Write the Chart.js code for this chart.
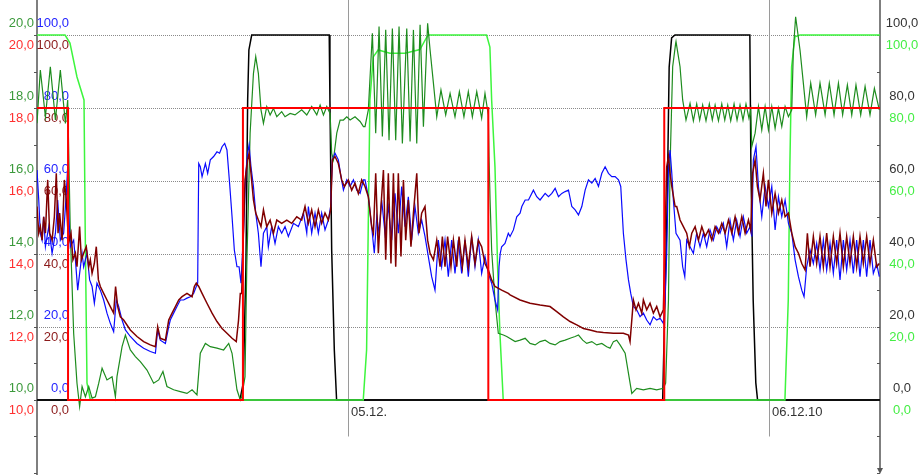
<!DOCTYPE html>
<html>
<head>
<meta charset="utf-8">
<script src="https://cdn.jsdelivr.net/npm/chart.js@4.4.1/dist/chart.umd.min.js"></script>
<style>
  html, body { margin: 0; padding: 0; background: #fff; }
  canvas { display: block; }
</style>
</head>
<body>
<canvas id="myChart" width="924" height="475"></canvas>
<script>
// time = hours since 04.12. 00:00
const dayTicks = [24, 48]
const dayLabels = ['05.12.', '06.12.10']
const tempTicks = [10, 12, 14, 16, 18, 20]
const pctTicks = [0, 20, 40, 60, 80, 100]

// set point (temp axis)
const setpoint = [[6.27,18],[8.04,18],[8.04,10],[18.01,10],[18.01,18],[32.00,18],[32.00,10],[42.03,10],[42.03,18],[54.33,18]]

// burner / valve (percent, right axis)
const burner = [[6.27,0],[17.84,0],[18.03,4.7],[18.18,36.4],[18.28,82.2],[18.35,95.9],[18.51,100],[22.93,100],[22.97,82.2],[23.07,41.1],[23.22,13.7],[23.35,0],
  [41.94,0],[42.20,54.8],[42.31,91.2],[42.45,99.2],[42.64,100],[46.91,100],[46.97,63.8],[47.10,27.4],[47.25,4.7],[47.35,0],[54.33,0]]

const pump = [[6.27,100],[7.87,100],[8.15,97.8],[8.55,88.5],[8.95,82.2],[9.02,45.7],[9.12,4.7],[9.31,0],[24.87,0],[25.06,13.7],[25.15,45.7],[25.25,82.2],
  [25.44,94],[25.72,95.9],[26.39,95],[27.25,95],[28.10,96],[28.56,100],[31.90,100],[32.09,96.7],[32.19,82.2],[32.38,63.8],[32.53,36.4],[32.66,18.4],[32.85,0],
  [48.91,0],[49.10,27.4],[49.19,63.8],[49.29,91.2],[49.48,99.5],[49.77,100],[54.33,100]]

// room temperature (temp axis)
const roomTemp = [[6.27,17.58],[6.46,19.04],[6.75,17.76],[7.03,19.13],[7.32,17.67],[7.60,19.04],[7.89,17.58],[8.02,18.22],[8.17,14.57],[8.36,11.83],
  [8.55,10.46],[8.70,9.82],[8.84,10.37],[9.03,10.09],[9.22,10.37],[9.41,10.05],[9.60,10.09],[9.79,10.46],[9.98,10.87],[10.26,10.55],[10.55,10.64],
  [10.74,10.09],[10.83,10.64],[11.12,11.46],[11.31,11.78],[11.59,11.37],[11.88,11.19],[12.16,11.05],[12.54,10.82],[12.92,10.46],[13.21,10.55],
  [13.45,10.78],[13.68,10.37],[14.06,10.28],[14.44,10.23],[14.82,10.18],[15.11,10.28],[15.39,10.14],[15.58,11.28],[15.87,11.55],[16.15,11.46],
  [16.53,11.42],[16.91,11.37],[17.20,11.55],[17.39,11.28],[17.67,10.28],[17.86,10.00],
  [17.94,10.09],[18.13,10.64],[18.23,13.65],[18.42,17.31],[18.61,18.95],[18.74,19.41],[18.89,18.95],[19.04,17.95],[19.18,17.58],[19.37,18.04],
  [19.56,17.81],[19.75,17.99],[19.94,17.76],[20.22,17.90],[20.41,17.76],[20.70,17.85],[20.98,17.81],[21.36,17.95],[21.65,17.81],[21.93,18.04],
  [22.22,17.81],[22.41,18.08],[22.60,17.81],[22.79,18.04],[22.98,17.85],[23.07,16.76],[23.17,16.58],[23.36,17.31],[23.55,17.67],[23.74,17.67],
  [23.93,17.76],[24.12,17.67],[24.40,17.76],[24.69,17.63],[24.88,17.49],
  [24.97,17.49],[25.16,17.95],[25.39,20.05],[25.58,17.31],[25.77,20.23],[25.96,17.22],[26.15,20.14],[26.34,17.12],[26.53,20.18],[26.72,17.12],
  [26.91,20.23],[27.10,17.03],[27.35,20.18],[27.54,17.08],[27.73,20.14],[27.92,17.03],[28.11,20.28],[28.30,17.49],[28.54,20.32],[28.68,19.59],
  [28.87,18.68],[29.06,17.76],[29.30,18.49],[29.57,17.81],[29.82,18.40],[30.10,17.76],[30.35,18.45],[30.61,17.76],[30.86,18.45],[31.09,17.76],
  [31.34,18.45],[31.62,17.72],[31.81,18.40],[32.00,17.81],[32.04,16.67],[32.10,15.48],[32.19,14.11],[32.38,12.74],[32.57,11.83],[32.86,11.78],
  [33.05,11.74],[33.53,11.60],[33.81,11.64],[34.10,11.69],[34.38,11.55],[34.67,11.51],[34.95,11.60],[35.24,11.64],[35.52,11.55],[35.81,11.51],
  [36.09,11.60],[36.38,11.64],[36.66,11.69],[36.95,11.74],[37.14,11.78],[37.38,11.64],[37.61,11.55],[37.90,11.60],[38.18,11.51],[38.47,11.55],
  [38.75,11.46],[38.94,11.42],[39.13,11.60],[39.32,11.64],[39.51,11.51],[39.80,11.28],[39.99,10.73],[40.18,10.18],[40.46,10.32],[40.84,10.28],
  [41.22,10.32],[41.60,10.28],[41.98,10.32],[42.11,10.46],[42.27,12.74],[42.36,16.39],[42.51,19.13],[42.68,19.77],
  [42.70,19.82],[42.93,19.13],[43.08,18.22],[43.27,17.67],[43.50,18.13],[43.69,17.65],[43.88,18.11],[44.05,17.67],[44.22,18.08],[44.41,17.65],
  [44.60,18.11],[44.77,17.67],[44.93,18.08],[45.12,17.65],[45.31,18.11],[45.48,17.67],[45.65,18.08],[45.82,17.65],[46.01,18.11],[46.18,17.67],
  [46.35,18.08],[46.52,17.67],[46.69,18.11],[46.86,17.72],[46.96,17.95],[47.02,16.94],[47.21,17.31],[47.40,18.04],[47.59,17.40],[47.78,18.04],
  [47.97,17.40],[48.16,18.04],[48.35,17.44],[48.54,17.99],[48.73,17.49],[48.92,18.04],[49.11,17.76],[49.30,17.95],[49.39,19.59],[49.52,20.50],
  [49.77,19.59],[49.96,18.68],[50.15,17.76],[50.38,18.68],[50.66,17.81],[50.91,18.68],[51.20,17.81],[51.44,18.68],[51.71,17.81],[51.96,18.68],
  [52.20,17.81],[52.47,18.63],[52.72,17.81],[52.96,18.63],[53.23,17.81],[53.48,18.59],[53.76,17.81],[54.01,18.54],[54.29,17.95]]

// flow temperature (percent scale, blue)
const flowBlue = [[6.27,63.0],[6.37,54.8],[6.46,45.7],[6.56,43.8],[6.65,50.2],[6.75,42.0],[6.94,47.5],[7.13,40.2],[7.32,45.7],[7.45,54.8],[7.60,43.8],
  [7.79,45.7],[7.94,56.6],[8.02,63.9],[8.09,50.2],[8.17,42.0],[8.36,43.8],[8.46,38.4],[8.59,30.1],[8.70,34.7],[8.84,40.2],[8.93,36.5],[9.12,40.2],
  [9.27,32.9],[9.41,31.1],[9.54,26.5],[9.69,32.0],[9.88,30.1],[10.07,27.4],[10.26,23.8],[10.45,21.0],[10.64,18.7],[10.79,27.4],[10.93,25.6],
  [11.12,21.9],[11.31,19.2],[11.59,17.4],[11.97,15.5],[12.35,14.2],[12.73,13.3],[13.02,12.8],[13.15,19.2],[13.30,16.4],[13.59,15.5],[13.78,20.1],
  [13.87,21.9],[14.06,23.8],[14.25,25.6],[14.44,27.4],[14.63,27.4],[14.82,27.9],[15.01,28.3],[15.20,29.2],[15.35,31.1],[15.43,32.0],[15.49,64.8],
  [15.58,63.9],[15.68,61.2],[15.87,64.8],[16.00,62.1],[16.15,65.8],[16.34,66.7],[16.53,68.0],[16.68,67.6],[16.82,69.4],[16.97,70.3],[17.10,68.5],
  [17.25,59.4],[17.39,50.2],[17.52,41.1],[17.67,36.5],
  [17.79,36.5],[17.90,32.0],[18.04,45.7],[18.17,62.1],[18.28,67.6],[18.36,69.9],[18.47,63.9],[18.61,58.5],[18.74,51.2],[18.89,45.7],[19.04,36.5],
  [19.18,45.7],[19.37,47.5],[19.46,42.0],[19.65,47.5],[19.84,42.9],[20.03,47.5],[20.22,45.7],[20.41,47.5],[20.60,44.8],[20.89,48.4],[21.17,47.5],
  [21.46,51.2],[21.65,45.7],[21.74,53.0],[21.93,45.7],[22.12,51.2],[22.31,45.7],[22.50,51.2],[22.69,46.6],[22.88,49.3],[23.01,53.0],[23.11,65.8],
  [23.26,67.6],[23.45,65.8],[23.60,61.2],[23.74,57.5],[23.93,60.3],[24.12,58.5],[24.31,60.3],[24.50,57.5],[24.69,56.6],[24.88,60.3],
  [24.97,60.3],[25.16,55.7],[25.35,47.5],[25.50,40.2],[25.64,50.2],[25.77,45.7],[25.92,54.8],[26.11,45.7],[26.30,53.0],[26.49,43.8],[26.68,56.6],
  [26.87,45.7],[27.06,58.5],[27.25,47.5],[27.44,55.7],[27.63,43.8],[27.82,53.0],[28.01,45.7],[28.20,49.3],[28.39,44.8],[28.58,39.3],[28.77,33.8],
  [28.96,30.1],[29.15,43.8],[29.34,36.5],[29.53,43.8],[29.72,33.8],[29.91,43.8],[30.10,34.7],[30.29,43.8],[30.48,34.7],[30.67,43.8],[30.86,33.8],
  [31.05,44.8],[31.24,36.5],[31.43,43.8],[31.62,34.7],[31.81,39.3],[32.00,34.7],[32.19,32.0],[32.38,27.4],[32.53,24.7],[32.61,36.5],[32.68,40.2],
  [32.76,42.0],[32.95,42.9],[33.14,45.7],
  [33.24,44.8],[33.43,46.6],[33.62,50.2],[33.81,51.2],[33.91,53.0],[34.10,54.8],[34.29,54.8],[34.57,57.5],[34.76,55.7],[34.95,54.8],[35.24,56.6],
  [35.43,55.7],[35.62,56.6],[35.81,58.0],[36.00,55.7],[36.19,56.6],[36.38,57.1],[36.57,57.5],[36.76,53.0],[36.95,52.1],[37.14,50.7],[37.33,53.0],
  [37.52,57.5],[37.71,60.3],[37.90,59.4],[38.09,60.7],[38.28,58.5],[38.47,62.1],[38.66,63.9],[38.85,62.1],[39.04,61.2],[39.23,61.2],[39.42,60.3],
  [39.55,58.5],[39.70,45.7],[39.85,38.4],[39.99,32.9],[40.12,29.2],[40.27,25.6],[40.46,24.7],[40.65,22.8],[40.84,23.8],[41.03,21.9],[41.22,20.6],
  [41.41,22.8],[41.60,21.9],[41.79,22.4],[41.98,21.0],[42.08,27.4],[42.17,40.2],[42.27,63.9],[42.36,68.5],[42.46,62.1],[42.55,54.8],[42.70,45.7],
  [42.93,43.8],[43.08,36.5],[43.20,33.8],[43.31,43.8],[43.50,42.0],[43.69,40.2],[43.88,45.7],[44.07,42.0],[44.26,45.7],[44.45,42.0],[44.64,46.6],
  [44.83,43.8],[45.02,47.5],[45.21,45.7],[45.40,48.4],[45.59,42.0],[45.78,49.3],[45.97,43.8],[46.16,49.3],[46.35,44.8],[46.54,50.2],[46.73,45.7],
  [46.92,47.5],[47.02,44.8],[47.11,65.8],[47.26,69.4],[47.40,58.5],[47.59,50.2],[47.78,58.5],[47.97,53.0],[48.16,58.5],[48.35,46.6],[48.54,55.7],
  [48.73,50.2],[48.92,54.8],[49.11,48.4],[49.30,45.7],[49.49,38.4],[49.68,33.8],[49.87,30.1],[50.00,28.3],[50.15,36.5],[50.34,41.1],[50.53,37.4],
  [50.72,42.9],[50.91,35.6],[51.10,43.8],[51.29,35.6],[51.48,42.9],[51.67,34.7],[51.86,43.8],[52.05,32.9],[52.24,43.8],[52.43,35.6],[52.62,43.8],
  [52.81,34.7],[53.00,43.8],[53.19,33.8],[53.38,43.8],[53.57,33.8],[53.76,43.8],[53.95,34.7],[54.14,37.4],[54.29,33.8]]

// return temperature (percent scale, dark red)
const returnRed = [[6.27,53.0],[6.37,45.7],[6.46,47.5],[6.56,43.8],[6.65,50.2],[6.75,45.7],[6.88,60.3],[6.99,45.7],[7.13,43.8],[7.26,50.2],[7.37,62.1],
  [7.47,45.7],[7.56,51.2],[7.70,43.8],[7.83,60.3],[7.94,54.8],[8.02,47.5],[8.11,43.8],[8.21,45.7],[8.32,38.4],[8.46,40.2],[8.55,36.5],[8.70,47.5],
  [8.80,38.4],[8.93,40.2],[9.08,42.0],[9.22,36.5],[9.31,38.4],[9.41,34.7],[9.54,37.4],[9.65,42.0],[9.77,32.9],[9.88,31.1],[10.07,29.2],[10.26,27.4],
  [10.45,25.6],[10.64,23.8],[10.75,31.1],[10.87,25.6],[11.02,22.8],[11.21,21.9],[11.59,19.2],[11.97,17.4],[12.35,16.0],[12.73,15.1],[13.02,14.6],
  [13.15,20.1],[13.30,16.9],[13.59,16.4],[13.78,21.9],[13.97,23.8],[14.16,25.6],[14.35,27.4],[14.54,28.3],[14.82,29.2],[15.11,28.3],[15.24,31.1],
  [15.35,32.0],[15.49,31.1],[15.68,29.2],[15.96,26.5],[16.25,23.8],[16.53,21.5],[16.82,19.6],[17.10,18.3],[17.39,16.9],[17.63,16.0],[17.76,21.9],
  [17.86,29.2],
  [17.94,29.2],[18.04,45.7],[18.13,60.3],[18.28,65.8],[18.36,67.6],[18.47,62.1],[18.61,54.8],[18.74,51.2],[18.89,49.3],[19.04,47.5],[19.18,52.1],
  [19.37,47.5],[19.56,49.3],[19.75,45.7],[19.94,49.3],[20.22,48.4],[20.51,49.3],[20.79,48.4],[21.08,50.2],[21.36,49.3],[21.55,53.0],[21.74,48.4],
  [21.93,52.1],[22.12,47.5],[22.31,52.1],[22.50,48.4],[22.69,51.2],[22.88,49.3],[23.01,52.1],[23.11,65.8],[23.26,66.7],[23.45,64.8],[23.64,60.3],
  [23.79,58.5],[24.02,60.3],[24.21,57.5],[24.40,59.4],[24.59,56.6],[24.78,60.3],
  [24.97,58.5],[25.16,55.7],[25.35,47.5],[25.45,45.7],[25.58,62.1],[25.73,40.2],[25.88,53.0],[26.02,63.0],[26.15,38.4],[26.30,62.1],[26.45,37.4],
  [26.59,62.1],[26.72,36.5],[26.87,62.1],[27.02,39.3],[27.16,60.3],[27.29,43.8],[27.44,54.8],[27.59,42.0],[27.73,51.2],[27.92,62.1],[28.05,45.7],
  [28.20,51.2],[28.39,53.0],[28.54,43.8],[28.68,40.2],[28.87,38.4],[29.06,43.8],[29.25,36.5],[29.38,44.8],[29.53,36.5],[29.68,44.8],[29.87,36.5],
  [30.01,43.8],[30.20,36.5],[30.33,44.8],[30.52,36.5],[30.67,43.8],[30.86,36.5],[31.05,44.8],[31.24,37.4],[31.43,43.8],[31.62,42.0],[31.81,37.4],
  [32.00,35.6],[32.19,32.9],[32.38,31.1],[32.76,30.1],[33.14,29.2],
  [33.24,28.8],[33.81,27.4],[34.38,26.5],[34.95,26.0],[35.52,25.6],[35.90,24.2],[36.28,22.8],[36.66,21.5],[37.04,20.6],[37.42,19.6],[37.80,19.2],
  [38.18,18.7],[38.56,18.5],[39.13,18.3],[39.70,18.3],[39.99,17.8],[40.08,16.0],[40.18,21.9],[40.27,27.4],[40.42,24.7],[40.56,26.5],[40.75,23.8],
  [40.84,27.4],[41.03,24.7],[41.22,26.5],[41.41,23.8],[41.60,25.6],[41.79,22.8],[41.98,24.7],[42.08,45.7],[42.17,63.9],[42.27,66.7],[42.36,62.1],
  [42.46,58.5],[42.65,53.0],
  [42.74,53.0],[42.93,49.3],[43.12,47.5],[43.31,45.7],[43.46,42.0],[43.60,45.7],[43.79,47.5],[43.98,43.8],[44.17,47.5],[44.36,44.8],[44.55,46.6],
  [44.74,43.8],[44.93,47.5],[45.12,45.7],[45.31,48.4],[45.50,45.7],[45.69,49.3],[45.88,45.7],[46.07,50.2],[46.26,45.7],[46.45,50.2],[46.64,45.7],
  [46.83,49.3],[46.96,46.6],[47.07,62.1],[47.21,65.8],[47.34,58.5],[47.49,54.8],[47.68,62.1],[47.83,53.0],[47.97,60.3],[48.16,51.2],[48.35,56.6],
  [48.54,51.2],[48.73,54.8],[48.92,50.2],[49.11,51.2],[49.30,45.7],[49.49,42.0],[49.68,40.2],[49.87,37.4],[50.06,35.6],[50.19,45.7],[50.34,36.5],
  [50.53,44.8],[50.72,37.4],[50.91,44.8],[51.10,36.5],[51.29,45.7],[51.48,36.5],[51.67,44.8],[51.86,37.4],[52.05,45.7],[52.24,36.5],[52.43,44.8],
  [52.62,37.4],[52.81,44.8],[53.00,36.5],[53.19,44.8],[53.38,37.4],[53.57,44.8],[53.76,37.4],[53.95,43.8],[54.14,36.5],[54.29,37.4]]

const pts = arr => arr.map(p => ({ x: p[0], y: p[1] }))
const fmt = v => v.toFixed(1).replace('.', ',')

Chart.defaults.font.family = '"Liberation Sans", Arial, sans-serif'

// grid, axes and the coloured tick labels (drawn under the curves)
const frame = {
    id: 'frame',
    beforeDatasetsDraw(chart) {
        const { ctx, chartArea: a } = chart
        const x = chart.scales.x, y = chart.scales.y, yT = chart.scales.yT
        const seg = (x1, y1, x2, y2) => { ctx.beginPath(); ctx.moveTo(x1, y1); ctx.lineTo(x2, y2); ctx.stroke() }
        ctx.save()

        ctx.lineWidth = 1
        ctx.strokeStyle = '#8a8a8a'
        ctx.setLineDash([1, 1])
        pctTicks.forEach(v => {
            if (v === 0) return
            const py = Math.round(y.getPixelForValue(v)) + 0.5
            seg(a.left, py, a.right, py)
        })
        ctx.setLineDash([])

        ctx.strokeStyle = '#9a9a9a'
        const gridBottom = y.getPixelForValue(-10)
        dayTicks.forEach(t => {
            const px = Math.round(x.getPixelForValue(t)) + 0.5
            seg(px, a.top, px, gridBottom)
        })

        const y0 = y.getPixelForValue(0)
        ctx.strokeStyle = '#3a3a3a'
        ctx.lineWidth = 2
        seg(a.left, y0, a.right, y0)

        ctx.strokeStyle = '#555'
        ctx.lineWidth = 1.5
        seg(a.left, a.top, a.left, a.bottom)
        seg(a.right, a.top, a.right, a.bottom - 4)
        ctx.lineWidth = 1
        for (let v = -20; v <= 100; v += 10) {
            const py = Math.round(y.getPixelForValue(v)) + 0.5
            seg(a.left - 3, py, a.left, py)
            seg(a.right - 3, py, a.right, py)
        }
        ctx.fillStyle = '#555'
        ctx.beginPath()
        ctx.moveTo(a.right - 3, a.bottom - 7)
        ctx.lineTo(a.right + 3, a.bottom - 7)
        ctx.lineTo(a.right, a.bottom - 1)
        ctx.fill()

        ctx.font = '13px "Liberation Sans", Arial, sans-serif'
        ctx.textBaseline = 'alphabetic'
        ctx.textAlign = 'right'
        tempTicks.forEach(v => {
            const py = yT.getPixelForValue(v)
            ctx.fillStyle = '#3c9a3c'
            ctx.fillText(fmt(v), a.left - 3, py - 8)
            ctx.fillStyle = '#ff3030'
            ctx.fillText(fmt(v), a.left - 3, py + 14)
        })
        pctTicks.forEach(v => {
            const py = y.getPixelForValue(v)
            ctx.fillStyle = '#2424ff'
            ctx.fillText(fmt(v), a.left + 32, py - 8)
            ctx.fillStyle = '#8b1a1a'
            ctx.fillText(fmt(v), a.left + 32, py + 14)
        })
        ctx.textAlign = 'center'
        pctTicks.forEach(v => {
            const py = y.getPixelForValue(v)
            ctx.fillStyle = '#333'
            ctx.fillText(fmt(v), a.right + 22, py - 8)
            ctx.fillStyle = '#44ee44'
            ctx.fillText(fmt(v), a.right + 22, py + 14)
        })
        ctx.textAlign = 'left'
        ctx.fillStyle = '#333'
        dayTicks.forEach((t, i) => ctx.fillText(dayLabels[i], x.getPixelForValue(t) + 3, y0 + 16))

        ctx.restore()
    }
}

const line = (data, color, width, axis) => ({
    data: pts(data),
    borderColor: color,
    borderWidth: width,
    yAxisID: axis || 'y',
    pointRadius: 0,
    tension: 0,
    fill: false
})

const ctx = document.getElementById('myChart')
const myChart = new Chart(ctx, {
    type: 'line',
    data: {
        datasets: [
            line(setpoint, '#ff0000', 2, 'yT'),
            line(returnRed, '#800000', 1.5),
            line(flowBlue, '#0a0aff', 1.2),
            line(roomTemp, '#1e8c1e', 1.2, 'yT'),
            line(pump, '#3df53d', 1.5),
            line(burner, '#000000', 1.5)
        ]
    },
    options: {
        responsive: false,
        animation: false,
        devicePixelRatio: 1,
        layout: { padding: { left: 37, right: 44, top: 0, bottom: 0 } },
        plugins: {
            legend: { display: false },
            tooltip: { enabled: false }
        },
        scales: {
            x: { type: 'linear', min: 6.27, max: 54.33, display: false },
            y: { min: -20.55, max: 109.59, display: false },
            yT: { min: 7.945, max: 20.959, display: false }
        }
    },
    plugins: [frame]
})
</script>
</body>
</html>
